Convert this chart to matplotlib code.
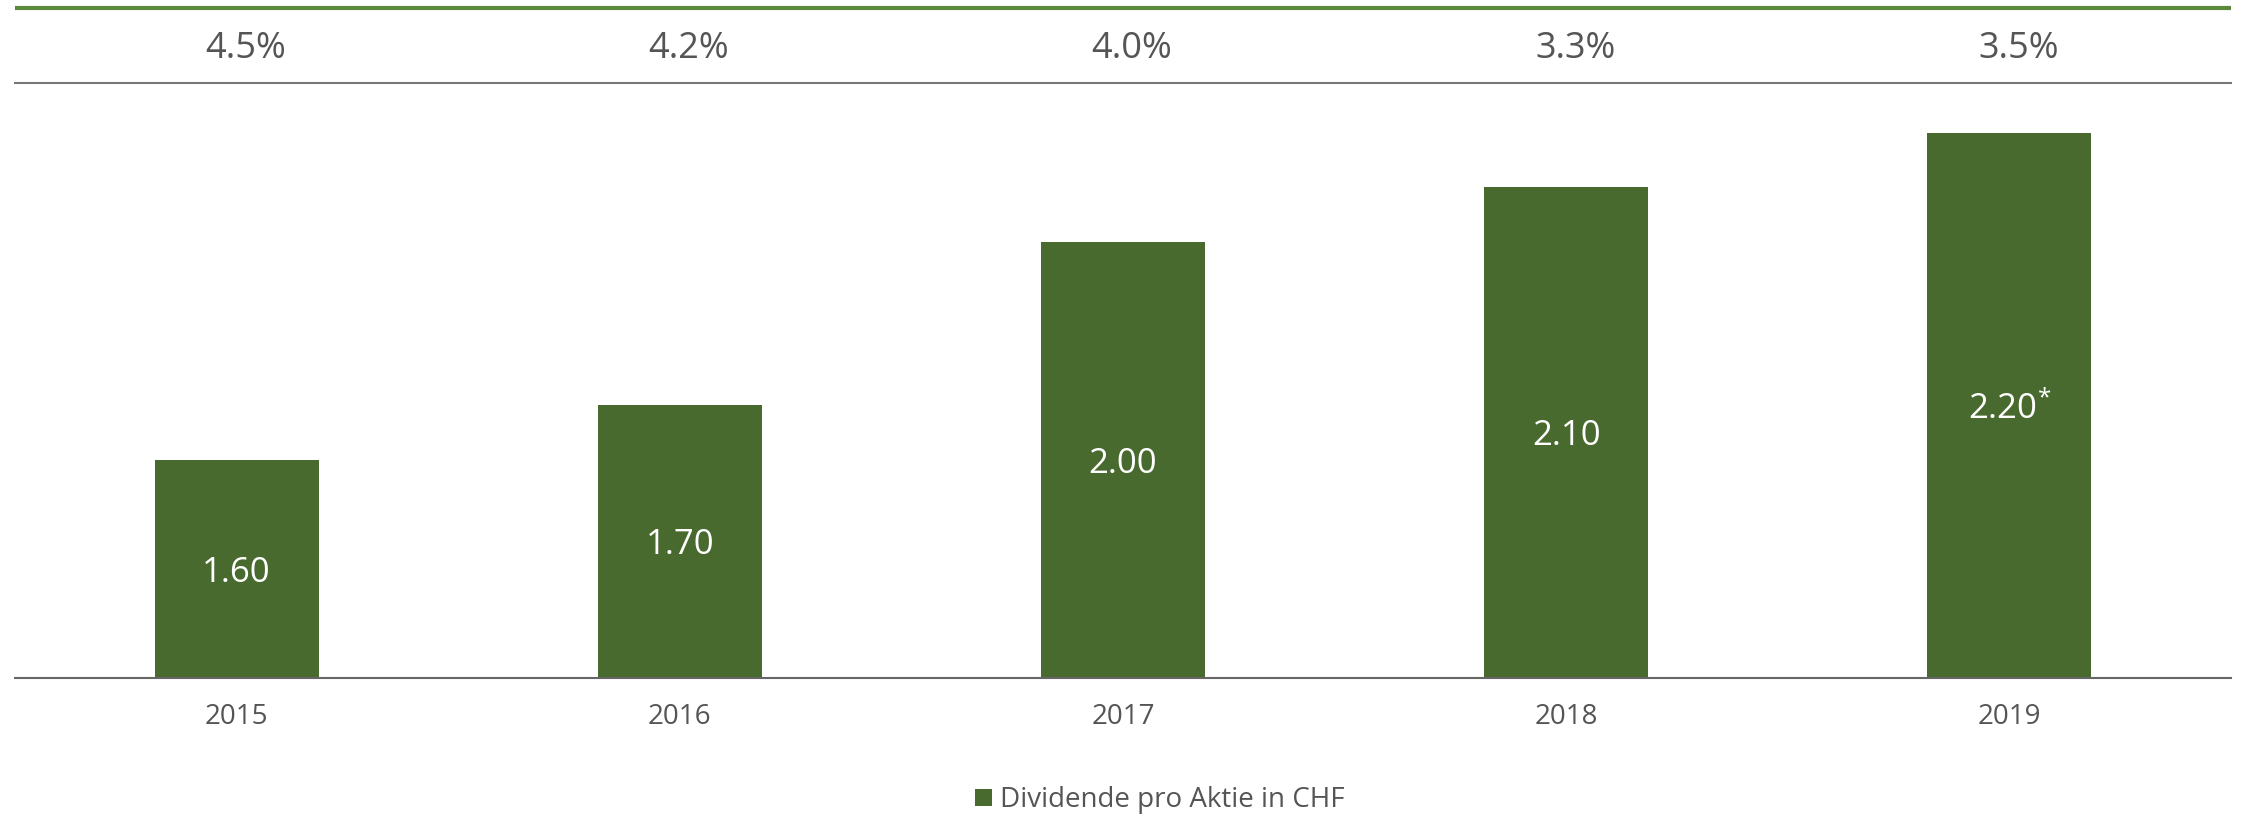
import matplotlib
matplotlib.use("Agg")
import matplotlib.pyplot as plt

# data
years = ["2015", "2016", "2017", "2018", "2019"]
dividend = [1.60, 1.70, 2.00, 2.10, 2.20]
value_labels = ["1.60", "1.70", "2.00", "2.10", "2.20$^{*}$"]
yield_labels = ["4.5%", "4.2%", "4.0%", "3.3%", "3.5%"]
legend_label = "Dividende pro Aktie in CHF"

plt.rcParams['font.family'] = ['Open Sans', 'DejaVu Sans']
plt.rcParams['mathtext.fontset'] = 'custom'
plt.rcParams['mathtext.rm'] = 'Open Sans'
plt.rcParams['mathtext.it'] = 'Open Sans'

bar_col = "#496a2e"
txt_col = "#555555"

fig = plt.figure(figsize=(22.41, 8.14), dpi=100)
ax = fig.add_axes([15 / 2241, 1 - 677.5 / 814, 2216 / 2241, 595 / 814])

x = list(range(len(years)))
ax.bar(x, dividend, width=0.37, color=bar_col, label=legend_label, zorder=2)

ymin = 1.2
ax.set_xlim(-0.5, 4.5)
ax.set_ylim(ymin, 2.292)

# values inside the bars
for i, v in enumerate(dividend):
    ax.text(i, (ymin + v) / 2, value_labels[i], color="white", fontsize=25,
            ha="center", va="center_baseline", zorder=3)

# yield row above the chart
for i, lab in enumerate(yield_labels):
    ax.text(i + 0.02, 1.056, lab, transform=ax.get_xaxis_transform(),
            color=txt_col, fontsize=26, ha="center", va="center")
ax.plot([0, 1], [1.125, 1.125], transform=ax.transAxes, color="#5b8a3c",
        lw=3, clip_on=False, solid_capstyle="butt")

ax.set_xticks(x)
ax.set_xticklabels(years, fontsize=20, color=txt_col)
ax.tick_params(axis="x", length=0, pad=18)
ax.set_yticks([])

for s in ["left", "right"]:
    ax.spines[s].set_visible(False)
ax.spines["top"].set_color("#777777")
ax.spines["top"].set_linewidth(1.5)
ax.spines["bottom"].set_color("#666666")
ax.spines["bottom"].set_linewidth(1.5)

fig.legend(loc="center", bbox_to_anchor=(0.5176, 0.017), frameon=False,
           fontsize=20, labelcolor=txt_col, handlelength=0.6,
           handleheight=0.6, handletextpad=0.3)

fig.savefig("out.png", dpi=100)
